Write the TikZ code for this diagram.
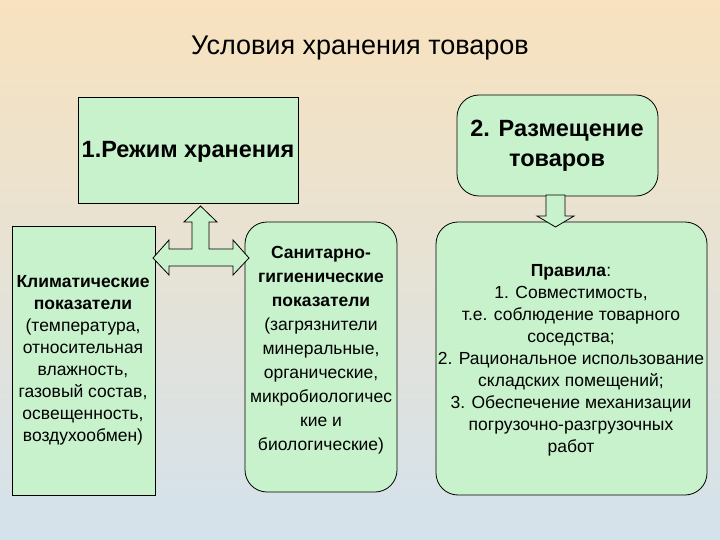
\documentclass[tikz,border=0pt]{standalone}
\usepackage{fontspec}
\setmainfont{Liberation Sans}
\begin{document}
\begin{tikzpicture}[x=1pt,y=-1pt,
  box/.style={draw=black,line width=0.8pt,fill=boxg},
  rbox/.style={box,rounded corners=22pt},
  arr/.style={draw=black,line width=0.8pt,fill=boxg},
  txt/.style={align=center,font=\fontsize{17.5}{22}\selectfont,inner sep=0pt}]
\definecolor{boxg}{HTML}{C8F2CC}
\definecolor{bgtop}{HTML}{F8E2BE}
\definecolor{bgbot}{HTML}{D4E2EC}
\shade[top color=bgtop,bottom color=bgbot] (0,0) rectangle (720,540);
\useasboundingbox (0,0) rectangle (720,540);
\node (title) at (360,48) {\fontsize{27}{32}\selectfont Условия хранения товаров};
\draw[box] (78,97) rectangle (298,203);
\node[font=\bfseries\fontsize{23.5}{28}\selectfont] (b1) at (188,152) {1.Режим хранения};
\draw[rbox] (457,95) rectangle (658,196);
\node[align=center,font=\bfseries\fontsize{23.5}{30}\selectfont] (b2) at (557,146) {2. Размещение\\товаров};
\draw[box] (12,226) rectangle (155,495);
\node[txt] (l) at (83,360) {\textbf{Климатические}\\\textbf{показатели}\\(температура,\\относительная\\влажность,\\газовый состав,\\освещенность,\\воздухообмен)};
\draw[rbox] (245,222) rectangle (397,492);
\node[txt,font=\fontsize{17.5}{24}\selectfont] (m) at (321,350) {\textbf{Санитарно-}\\\textbf{гигиенические}\\\textbf{показатели}\\(загрязнители\\минеральные,\\органические,\\микробиологичес\\кие и\\биологические)};
\draw[rbox] (436,222) rectangle (707,495);
\node[txt] (r) at (571,360) {\textbf{Правила}:\\1. Совместимость,\\т.е. соблюдение товарного\\соседства;\\2. Рациональное использование\\складских помещений;\\3. Обеспечение механизации\\погрузочно-разгрузочных\\работ};
\draw[arr] (153,258) -- (169,240) -- (169,249) -- (192,249) -- (192,222) -- (184,222) -- (200.5,206) -- (217,222) -- (209,222) -- (209,249) -- (233,249) -- (233,240) -- (249,258) -- (233,275) -- (233,266) -- (169,266) -- (169,275) -- cycle;
\draw[arr] (546,195) -- (565,195) -- (565,216) -- (574,216) -- (555.5,227) -- (537,216) -- (546,216) -- cycle;
\end{tikzpicture}
\end{document}
